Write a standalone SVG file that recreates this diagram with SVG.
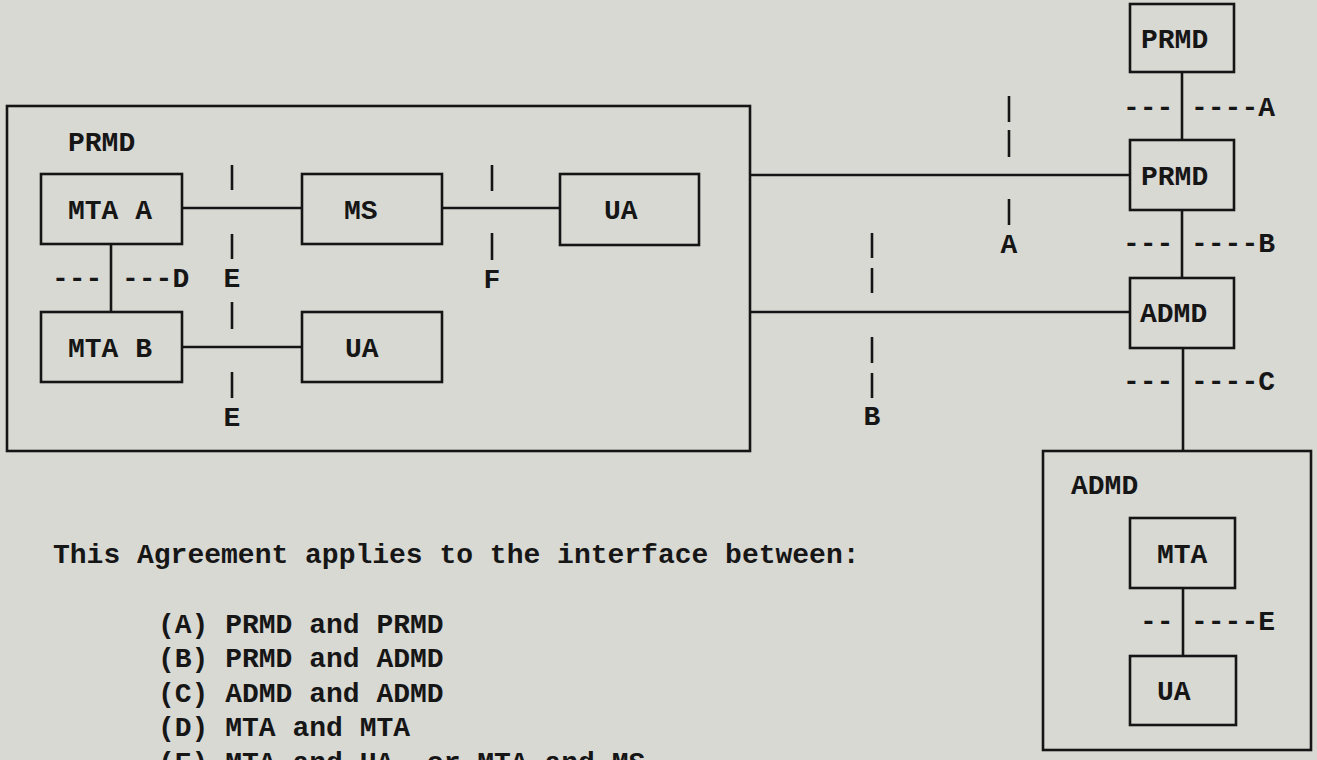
<svg xmlns="http://www.w3.org/2000/svg" width="1317" height="760" viewBox="0 0 1317 760">
<style>
.bg{fill:#d9d9d4}
.box{fill:none;stroke:#151515;stroke-width:2.6}
.ln{fill:none;stroke:#151515;stroke-width:2.6}
.mk{fill:none;stroke:#151515;stroke-width:2.6}
text{font-family:"Liberation Mono","DejaVu Sans Mono",monospace;font-size:28px;fill:#161616;font-weight:bold}
.m{text-anchor:middle}
</style>
<rect class="bg" x="0" y="0" width="1317" height="760"/>

<g id="connectors">
<line class="ln" x1="182" y1="208" x2="302" y2="208"/>
<line class="ln" x1="442" y1="208" x2="560" y2="208"/>
<line class="ln" x1="111" y1="244" x2="111" y2="312"/>
<line class="ln" x1="182" y1="347" x2="302" y2="347"/>
<line class="ln" x1="750" y1="175" x2="1130" y2="175"/>
<line class="ln" x1="750" y1="312" x2="1130" y2="312"/>
<line class="ln" x1="1182" y1="72" x2="1182" y2="140"/>
<line class="ln" x1="1182" y1="210" x2="1182" y2="278"/>
<line class="ln" x1="1183" y1="348" x2="1183" y2="451"/>
<line class="ln" x1="1183" y1="588" x2="1183" y2="656"/>
</g>

<g id="markers">
<path class="mk" d="M232 165V190M232 234V259M232 302V329M232 372V398"/>
<path class="mk" d="M492 165V191M492 233V260"/>
<path class="mk" d="M1009 96V122M1009 130V157M1009 199V225"/>
<path class="mk" d="M872 233V258M872 268V293M872 337V363M872 373V398"/>
<text x="232" y="287" class="m">E</text>
<text x="232" y="426" class="m">E</text>
<text x="492" y="288" class="m">F</text>
<text x="1009" y="253" class="m">A</text>
<text x="872" y="425" class="m">B</text>
<text x="52" y="287">---</text>
<text x="122" y="287">---D</text>
<text x="1123" y="116">---</text>
<text x="1191" y="116">----A</text>
<text x="1123" y="252">---</text>
<text x="1191" y="252">----B</text>
<text x="1123" y="390">---</text>
<text x="1191" y="390">----C</text>
<text x="1140" y="630">--</text>
<text x="1191" y="630">----E</text>
</g>

<g id="prmd-domain">
<rect class="box" x="7" y="106" width="743" height="345"/>
<text x="68" y="151">PRMD</text>
</g>
<g id="mta-a">
<rect class="box" x="41" y="174" width="141" height="70"/>
<text x="68" y="219">MTA A</text>
</g>
<g id="ms">
<rect class="box" x="302" y="174" width="140" height="70"/>
<text x="344" y="219">MS</text>
</g>
<g id="ua-1">
<rect class="box" x="560" y="174" width="139" height="71"/>
<text x="604" y="219">UA</text>
</g>
<g id="mta-b">
<rect class="box" x="41" y="312" width="141" height="70"/>
<text x="68" y="357">MTA B</text>
</g>
<g id="ua-2">
<rect class="box" x="302" y="312" width="140" height="70"/>
<text x="345" y="357">UA</text>
</g>

<g id="prmd-top">
<rect class="box" x="1130" y="4" width="104" height="68"/>
<text x="1141" y="48">PRMD</text>
</g>
<g id="prmd-mid">
<rect class="box" x="1130" y="140" width="104" height="70"/>
<text x="1141" y="185">PRMD</text>
</g>
<g id="admd">
<rect class="box" x="1130" y="278" width="104" height="70"/>
<text x="1140" y="322">ADMD</text>
</g>
<g id="admd-domain">
<rect class="box" x="1043" y="451" width="268" height="299"/>
<text x="1071" y="494">ADMD</text>
</g>
<g id="mta">
<rect class="box" x="1130" y="518" width="105" height="70"/>
<text x="1157" y="563">MTA</text>
</g>
<g id="ua-3">
<rect class="box" x="1130" y="656" width="106" height="69"/>
<text x="1157" y="700">UA</text>
</g>

<g id="caption">
<text x="53" y="563">This Agreement applies to the interface between:</text>
<text x="158" y="633">(A) PRMD and PRMD</text>
<text x="158" y="667">(B) PRMD and ADMD</text>
<text x="158" y="702">(C) ADMD and ADMD</text>
<text x="158" y="736">(D) MTA and MTA</text>
<text x="158" y="771">(E) MTA and UA, or MTA and MS</text>
</g>
</svg>
